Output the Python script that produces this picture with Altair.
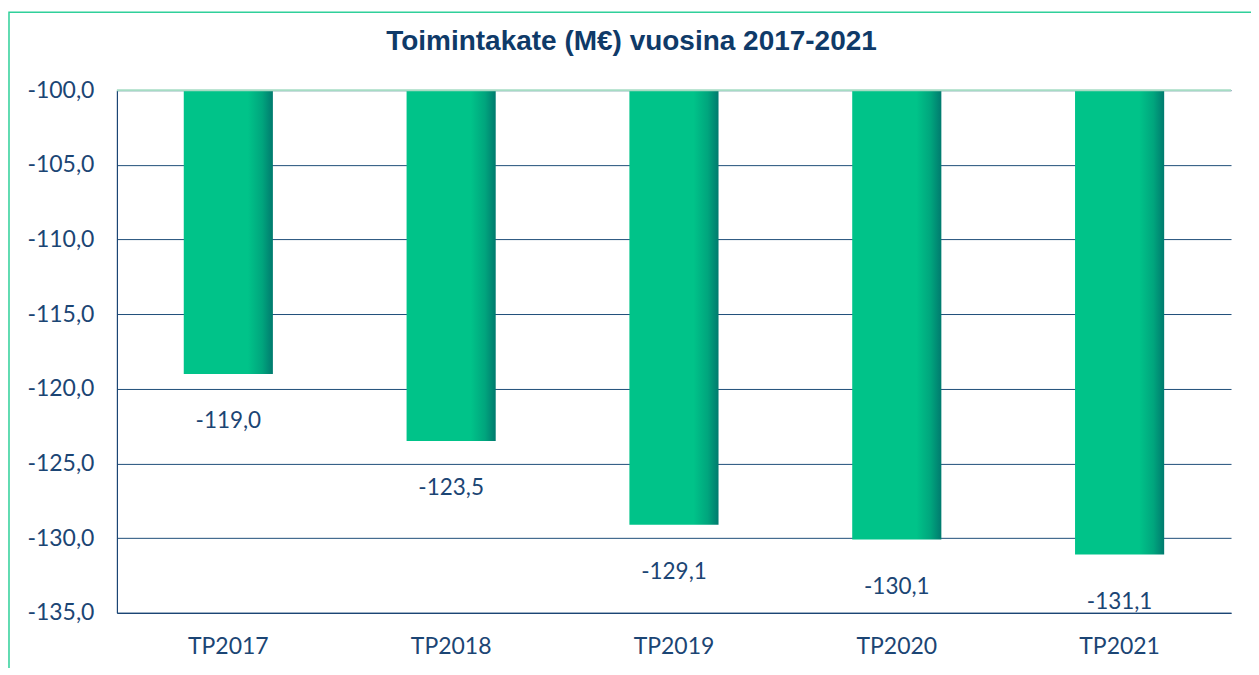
import altair as alt
import pandas as pd

categories = ["TP2017", "TP2018", "TP2019", "TP2020", "TP2021"]
values = [-119.0, -123.5, -129.1, -130.1, -131.1]
base_value = -100.0
y_ticks = [-100, -105, -110, -115, -120, -125, -130, -135]
title_text = "Toimintakate (M€) vuosina 2017-2021"

df = pd.DataFrame({"cat": categories, "value": values, "base": [base_value] * len(values)})
df["label"] = [f"{v:.1f}".replace(".", ",") for v in values]

W, H = 1115, 523
FONT = "Lato"
TXT = "#1b4574"
GRID = "#1f4e79"

gradient = alt.LinearGradient(
    gradient="linear",
    stops=[
        alt.GradientStop(color="#00c389", offset=0),
        alt.GradientStop(color="#00c389", offset=0.72),
        alt.GradientStop(color="#00a57d", offset=0.88),
        alt.GradientStop(color="#007a6e", offset=1),
    ],
    x1=0, x2=1, y1=0, y2=0,
)

x_enc = alt.X(
    "cat:N",
    sort=categories,
    scale=alt.Scale(paddingInner=0.6, paddingOuter=0.3),
    axis=alt.Axis(
        title=None, labelAngle=0, labelFontSize=23, labelColor=TXT, labelFont=FONT,
        labelPadding=23, ticks=False, domainColor=TXT, domainWidth=1.2,
    ),
)
y_scale = alt.Scale(domain=[-135, -100], nice=False, zero=False)
y_enc = alt.Y(
    "value:Q",
    scale=y_scale,
    axis=alt.Axis(
        title=None, values=y_ticks,
        labelExpr="(datum.value < 0 ? '-' : '') + replace(format(abs(datum.value), '.1f'), '.', ',')",
        labelFontSize=23, labelColor=TXT, labelFont=FONT, labelPadding=23,
        ticks=False, domainColor=TXT, domainWidth=1.2,
        grid=True, gridColor=GRID, gridWidth=1,
    ),
)

border = alt.Chart(pd.DataFrame({"a": [0]})).mark_rect(
    filled=False, stroke="#2fd09a", strokeWidth=1.5
).encode(
    x=alt.value(-108), x2=alt.value(W + 300),
    y=alt.value(-78), y2=alt.value(H + 300),
)

title_mark = alt.Chart(pd.DataFrame({"t": [title_text]})).mark_text(
    font="Liberation Sans", fontSize=28, fontWeight="bold", color="#0f3a68",
    align="center", baseline="middle",
).encode(x=alt.value(632 - 117), y=alt.value(42 - 90), text="t:N")

bars = alt.Chart(df).mark_bar(color=gradient).encode(
    x=x_enc, y=y_enc, y2="base:Q"
)

top_rule = alt.Chart(pd.DataFrame({"value": [base_value]})).mark_rule(
    color="#a6dcc4", strokeWidth=2
).encode(y=alt.Y("value:Q"))

labels = alt.Chart(df).mark_text(
    dy=47, baseline="middle", align="center", fontSize=22.5, font=FONT, color=TXT
).encode(x=alt.X("cat:N", sort=categories), y=alt.Y("value:Q"), text="label:N")

chart = alt.layer(bars, border, title_mark, top_rule, labels).properties(
    width=W, height=H,
    autosize=alt.AutoSizeParams(type="none"),
    padding={"left": 109, "top": 82, "right": 20, "bottom": 55},
).configure_view(stroke=None)

chart.save("out.html", embed_options={"renderer": "svg", "actions": False})
